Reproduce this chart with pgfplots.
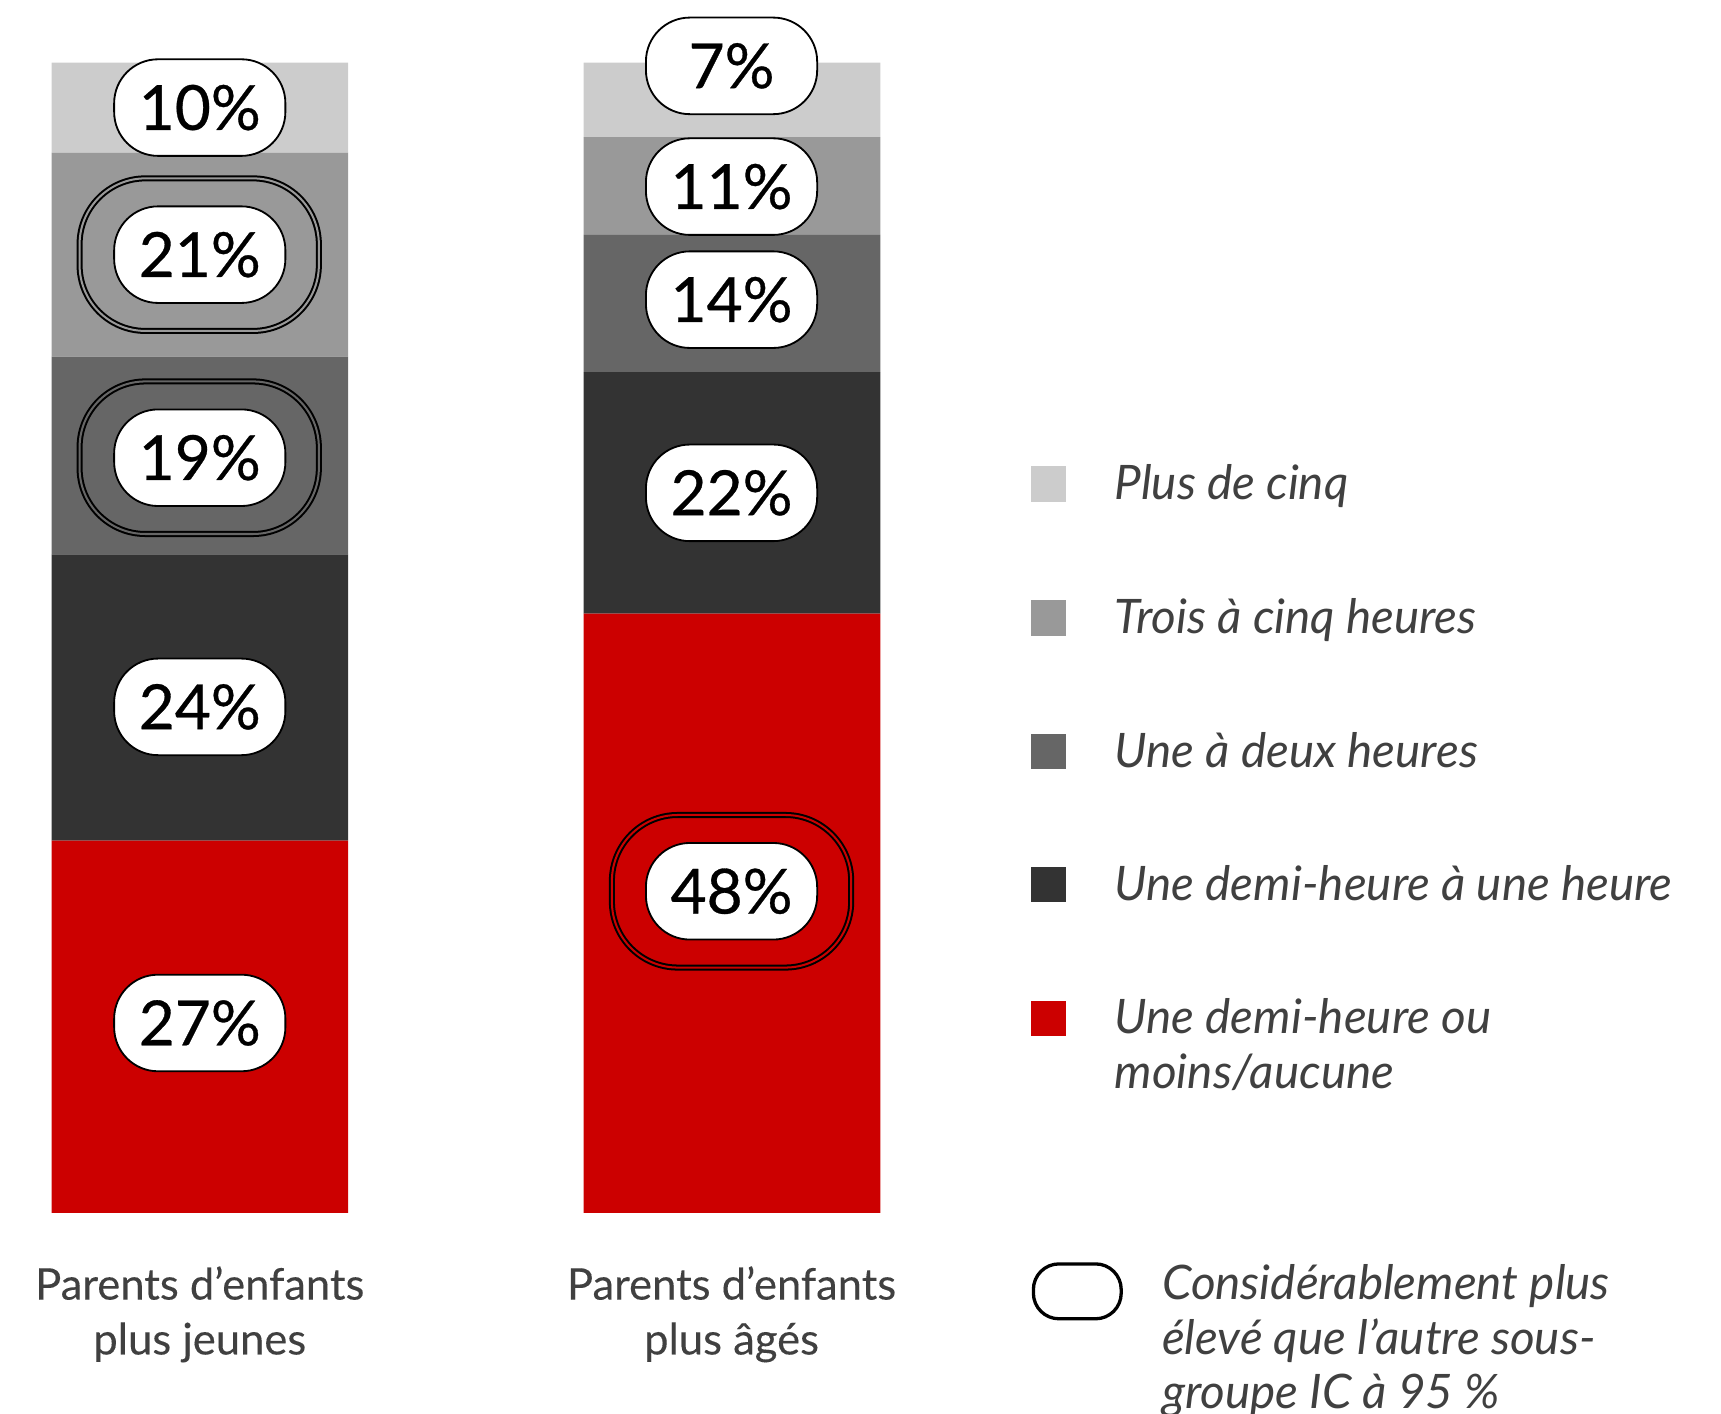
\documentclass[border=0pt]{standalone}
\usepackage{pgfplots}
\pgfplotsset{compat=1.18}
\usepackage{fontspec}
\setmainfont{Lato}
\newfontfamily\numfont[FakeBold=0.5]{Lato}
\newfontfamily\catfont[FakeBold=0.2]{Lato}
\definecolor{cred}{HTML}{CC0000}
\definecolor{cdark}{HTML}{333333}
\definecolor{cmid}{HTML}{666666}
\definecolor{clmid}{HTML}{999999}
\definecolor{clight}{HTML}{CCCCCC}
\definecolor{ctext}{HTML}{404040}
\begin{document}
\begin{tikzpicture}
\path[use as bounding box] (0,0) rectangle (470.4pt,-386.4pt);
\begin{axis}[at={(14.1pt,-331.5pt)}, anchor=south west, scale only axis,
  width=226.5pt, height=314.4pt, xmin=-0.2786, xmax=1.2786, ymin=0, ymax=100,
  ybar stacked, bar width=0.5573, hide axis, clip=false]
\addplot[fill=cred, draw=none] coordinates {(0,32.35) (1,52.10)};
\addplot[fill=cdark, draw=none] coordinates {(0,24.90) (1,20.99)};
\addplot[fill=cmid, draw=none] coordinates {(0,17.18) (1,11.93)};
\addplot[fill=clmid, draw=none] coordinates {(0,17.75) (1,8.49)};
\addplot[fill=clight, draw=none] coordinates {(0,7.82) (1,6.49)};
\end{axis}
\begin{scope}[x=0.3pt,y=-0.3pt]
% significance rings
\draw[line width=0.55pt, double=clmid, double distance=0.55pt, rounded corners=18pt] (72.5,162.5) rectangle (290.5,301.5);
\draw[line width=0.55pt, double=cmid, double distance=0.55pt, rounded corners=18pt] (72.5,347.5) rectangle (290.5,486.5);
\draw[line width=0.55pt, double=cred, double distance=0.55pt, rounded corners=18pt] (557.5,742.5) rectangle (775.5,881.5);
% value labels
\tikzset{lab/.style={draw=black, line width=0.5pt, fill=white, rounded corners=12pt,
  minimum width=46.8pt, minimum height=26.4pt, inner sep=0pt,
  font=\numfont\fontsize{17}{17}\selectfont}}
\node[lab] at (182,98) {10\%};
\node[lab] at (182,232) {21\%};
\node[lab] at (182,417) {19\%};
\node[lab] at (182,644) {24\%};
\node[lab] at (182,932) {27\%};
\node[lab] at (666.5,60) {7\%};
\node[lab] at (666.5,170) {11\%};
\node[lab] at (666.5,273) {14\%};
\node[lab] at (666.5,449) {22\%};
\node[lab] at (666.5,812) {48\%};
% category labels
\tikzset{cat/.style={anchor=base, text=ctext, font=\catfont\fontsize{11.9}{15}\selectfont}}
\node[cat] at (182,1184) {Parents d’enfants};
\node[cat] at (182,1234) {plus jeunes};
\node[cat] at (666.5,1184) {Parents d’enfants};
\node[cat] at (666.5,1234) {plus âgés};
% legend
\fill[clight] (939,425) rectangle (971,457);
\fill[clmid] (939,547) rectangle (971,579);
\fill[cmid] (939,669) rectangle (971,701);
\fill[cdark] (939,790) rectangle (971,822);
\fill[cred] (939,912) rectangle (971,944);
\tikzset{leg/.style={anchor=base west, text=ctext, inner sep=0pt, font=\fontsize{13}{15}\selectfont\itshape}}
\node[leg] at (1015,455) {Plus de cinq};
\node[leg] at (1015,577) {Trois à cinq heures};
\node[leg] at (1015,699) {Une à deux heures};
\node[leg] at (1015,820) {Une demi-heure à une heure};
\node[leg] at (1015,942) {Une demi-heure ou};
\node[leg] at (1015,992) {moins/aucune};
\draw[line width=0.9pt, rounded corners=7pt] (941.5,1151.5) rectangle (1021.5,1201.5);
\node[leg] at (1058,1184) {Considérablement plus};
\node[leg] at (1058,1234) {élevé que l’autre sous-};
\node[leg] at (1058,1283) {groupe IC à 95~\%};
\end{scope}
\end{tikzpicture}
\end{document}
